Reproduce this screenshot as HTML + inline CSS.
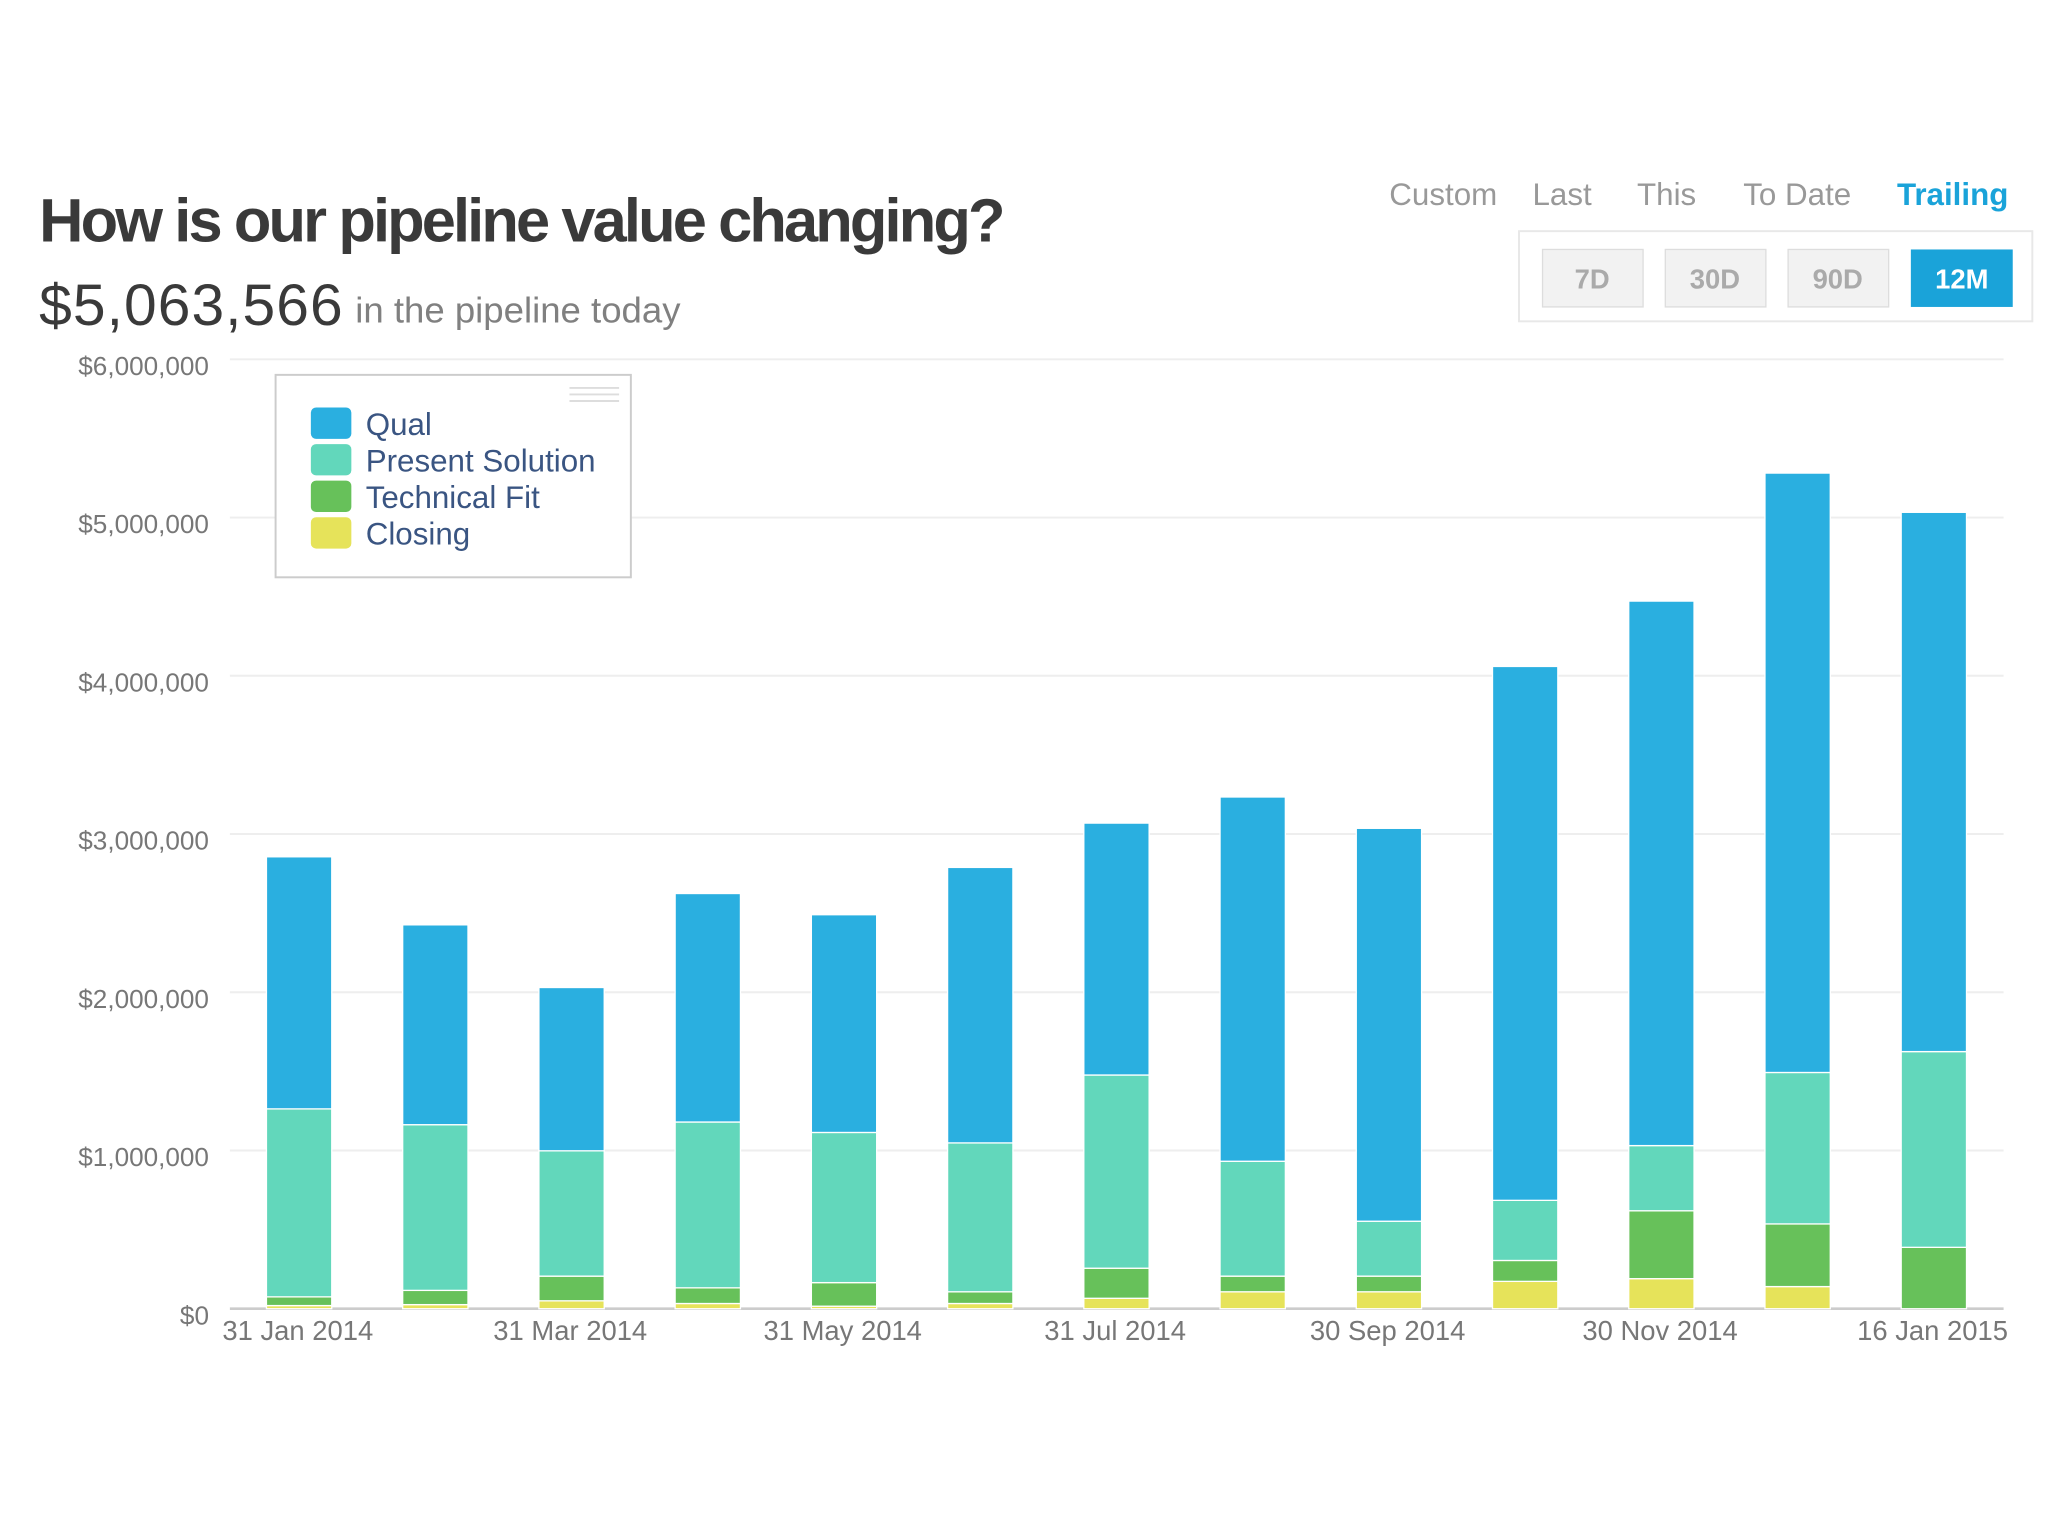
<!DOCTYPE html>
<html><head><meta charset="utf-8"><style>
html,body{margin:0;padding:0;background:#fff;}
svg{display:block;font-family:"Liberation Sans",Arial,sans-serif;}
</style></head><body>
<svg id="chart" width="2048" height="1536" viewBox="0 0 1568 1176">
<rect x="0" y="0" width="1568" height="1176" fill="#fff"/>
<text x="30" y="185" font-size="47" font-weight="bold" fill="#3a3a3a" letter-spacing="-2.2">How is our pipeline value changing?</text>
<text x="30" y="249" font-size="45" fill="#3a3a3a" letter-spacing="0.8">$5,063,566</text>
<text x="272" y="247" font-size="28" fill="#808080">in the pipeline today</text>
<g font-size="24" fill="#999" text-anchor="middle">
<text x="1105" y="157">Custom</text>
<text x="1196" y="157">Last</text>
<text x="1276" y="157">This</text>
<text x="1376" y="157">To Date</text>
<text x="1495" y="157" fill="#1aa3d9" font-weight="bold">Trailing</text>
</g>
<rect x="1163" y="177" width="393" height="69" fill="#fff" stroke="#e8e8e8" stroke-width="1.5"/>
<g font-size="21" font-weight="bold" text-anchor="middle">
<rect x="1181" y="191" width="77" height="44" fill="#f2f2f2" stroke="#ddd"/>
<text x="1219" y="221" fill="#aaa">7D</text>
<rect x="1275" y="191" width="77" height="44" fill="#f2f2f2" stroke="#ddd"/>
<text x="1313" y="221" fill="#aaa">30D</text>
<rect x="1369" y="191" width="77" height="44" fill="#f2f2f2" stroke="#ddd"/>
<text x="1407" y="221" fill="#aaa">90D</text>
<rect x="1463" y="191" width="78" height="44" fill="#1aa3d9"/>
<text x="1502" y="221" fill="#fff">12M</text>
</g>
<g id="grid"></g>
<g id="bars"></g>
<g id="xlabels"></g>
<g>
<rect x="211" y="287" width="272" height="155" fill="#fff" stroke="#ccc" stroke-width="1.5"/>
<g stroke="#ddd" stroke-width="1.5"><line x1="436" y1="297" x2="474" y2="297"/><line x1="436" y1="302" x2="474" y2="302"/><line x1="436" y1="307" x2="474" y2="307"/></g>
<g id="legend-items"></g>
</g>
</svg>
<script>
const categories = ["31 Jan 2014","28 Feb 2014","31 Mar 2014","30 Apr 2014","31 May 2014","30 Jun 2014","31 Jul 2014","31 Aug 2014","30 Sep 2014","31 Oct 2014","30 Nov 2014","31 Dec 2014","16 Jan 2015"];
const closing = [0.02,0.026,0.05,0.033,0.016,0.033,0.066,0.107,0.107,0.173,0.19,0.14,0.0];
const technicalFit = [0.055,0.09,0.156,0.099,0.149,0.074,0.19,0.099,0.099,0.132,0.429,0.396,0.388];
const presentSolution = [1.188,1.047,0.792,1.048,0.949,0.941,1.221,0.726,0.347,0.38,0.412,0.957,1.237];
const qual = [1.593,1.263,1.032,1.444,1.376,1.741,1.592,2.302,2.483,3.374,3.441,3.788,3.408];
const yTicks = [0,1,2,3,4,5,6];
const yTickLabels = ["$0","$1,000,000","$2,000,000","$3,000,000","$4,000,000","$5,000,000","$6,000,000"];
const xLabelIdx = [0,2,4,6,8,10,12];
const seriesNames = ["Qual","Present Solution","Technical Fit","Closing"];
const seriesColors = ["#2aafe0","#62d7bb","#67c15a","#e6e35a"];

const NS="http://www.w3.org/2000/svg";
function mk(tag,attrs,parent){const e=document.createElementNS(NS,tag);for(const k in attrs)e.setAttribute(k,attrs[k]);parent.appendChild(e);return e;}
const y0=1002, pxPerM=121.15;
function yScale(v){return y0-v*pxPerM;}
function xScale(i){return 229+i*104.3;}
const barW=50;

const grid=document.getElementById('grid');
yTicks.forEach((t,i)=>{
  const l=mk('line',{x1:176,x2:1534,y1:yScale(t),y2:yScale(t),stroke:i===0?'#ccc':'#eee','stroke-width':i===0?2:1.5},grid);
  
  
  const tx=mk('text',{x:160,y:yScale(t)+12,'text-anchor':'end','font-size':20,fill:'#777'},grid);
  tx.textContent=yTickLabels[i];
  
  
});

const bars=document.getElementById('bars');
const stack=[closing,technicalFit,presentSolution,qual];
const stackColors=["#e6e35a","#67c15a","#62d7bb","#2aafe0"];
categories.forEach((c,i)=>{
  let base=0;
  stack.forEach((s,k)=>{
    const v=s[i];
    const r=mk('rect',{x:xScale(i)-barW/2,y:yScale(base+v),width:barW,height:Math.max(0,v*pxPerM),fill:stackColors[k],stroke:'#fff','stroke-width':1},bars);
    
    
    base+=v;
  });
});

const xl=document.getElementById('xlabels');
xLabelIdx.forEach(i=>{
  const t=mk('text',{x:xScale(i)-1,y:1026,'text-anchor':'middle','font-size':21,fill:'#777'},xl);
  t.textContent=categories[i];
  
  
});

const lg=document.getElementById('legend-items');
seriesNames.forEach((n,i)=>{
  const r=mk('rect',{x:238,y:312+i*28,width:31,height:24,rx:4,fill:seriesColors[i]},lg);
  
  
  const t=mk('text',{x:280,y:333+i*28,'font-size':24,fill:'#3a5582'},lg);
  t.textContent=n;
  
  
});
</script>
</body></html>
